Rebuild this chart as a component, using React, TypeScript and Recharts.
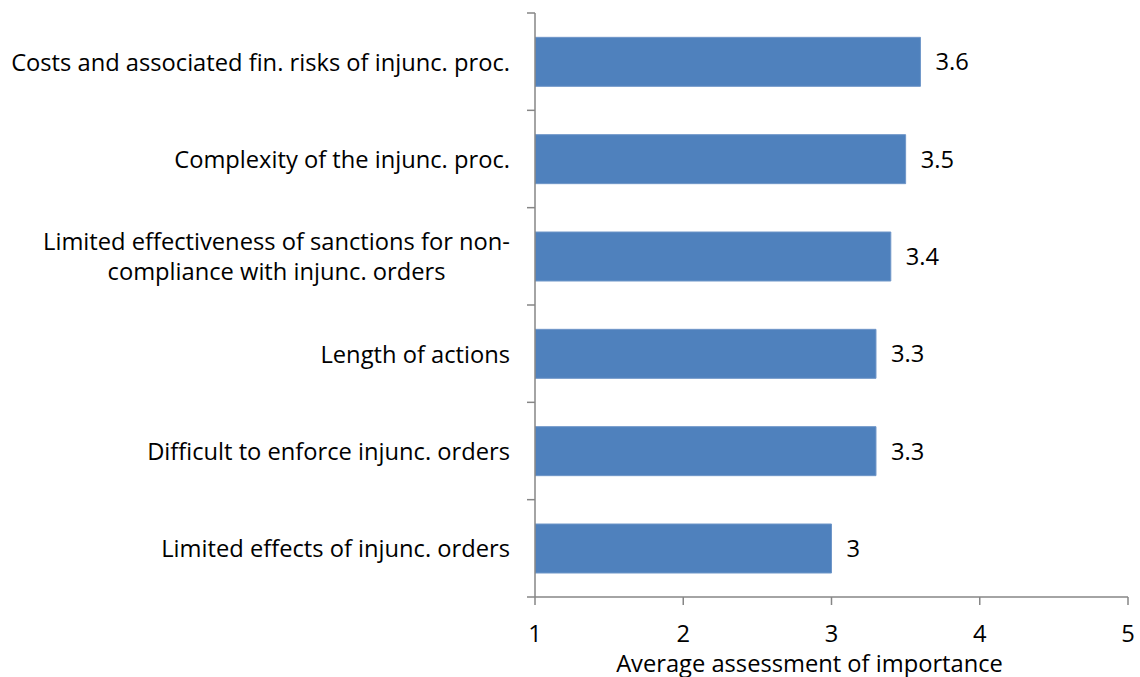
import React from "react";
import { BarChart, Bar, XAxis, YAxis, LabelList } from "recharts";

const categories: string[] = [
  "Costs and associated fin. risks of injunc. proc.",
  "Complexity of the injunc. proc.",
  "Limited effectiveness of sanctions for non-\ncompliance with injunc. orders",
  "Length of actions",
  "Difficult to enforce injunc. orders",
  "Limited effects of injunc. orders",
];
const scores: number[] = [3.6, 3.5, 3.4, 3.3, 3.3, 3];
const xTicks: number[] = [1, 2, 3, 4, 5];

const data = categories.map((name, i) => ({ name, score: scores[i] }));

const FONT = "'Open Sans', sans-serif";
const FS = 23.7;
const AXIS = "#868686";
const TICK_SIZE = 8;
const TICK_MARGIN = 17;

const measure = (s: string): number => {
  const c = document.createElement("canvas").getContext("2d");
  if (!c) return s.length * 11;
  c.font = `${FS}px 'Open Sans'`;
  return c.measureText(s).width;
};

// category label (wrapped lines centred on each other) + tick marks at band edges
const CategoryTick = (props: any) => {
  const { x, y, payload, index, height, visibleTicksCount } = props;
  const lines: string[] = String(payload.value).split("\n");
  const band = height / visibleTicksCount;
  const lx = x + TICK_MARGIN;
  const w = Math.max(...lines.map(measure));
  const cx = lines.length > 1 ? x - w / 2 : x;
  const lh = 30;
  const startY = y - ((lines.length - 1) * lh) / 2;
  return (
    <g>
      <line x1={lx} x2={lx + TICK_SIZE} y1={y - band / 2} y2={y - band / 2} stroke={AXIS} strokeWidth={1.5} />
      {index === visibleTicksCount - 1 && (
        <line x1={lx} x2={lx + TICK_SIZE} y1={y + band / 2} y2={y + band / 2} stroke={AXIS} strokeWidth={1.5} />
      )}
      <text
        x={cx}
        y={startY}
        textAnchor={lines.length > 1 ? "middle" : "end"}
        dominantBaseline="central"
        fontSize={FS}
        fontFamily={FONT}
        fill="#000"
      >
        {lines.map((l, i) => (
          <tspan key={i} x={cx} dy={i === 0 ? 0 : lh}>
            {l}
          </tspan>
        ))}
      </text>
    </g>
  );
};

export default function App() {
  return (
    <div style={{ position: "absolute", left: 0, top: 0, background: "#fff" }}>
      <BarChart
        width={1140}
        height={677}
        data={data}
        layout="vertical"
        margin={{ top: 13, right: 12, bottom: 0, left: 0 }}
        barCategoryGap="25%"
      >
        <XAxis
          type="number"
          domain={[1, 5]}
          ticks={xTicks}
          allowDataOverflow
          stroke={AXIS}
          strokeWidth={1.5}
          tickSize={TICK_SIZE}
          tickMargin={20}
          height={80}
          tick={{ fill: "#000", fontSize: FS, fontFamily: FONT }}
          label={{
            value: "Average assessment of importance",
            position: "insideBottom",
            offset: 5,
            dx: -22,
            fill: "#000",
            fontSize: FS,
            fontFamily: FONT,
          }}
        />
        <YAxis
          type="category"
          dataKey="name"
          width={535}
          stroke={AXIS}
          strokeWidth={1.5}
          tickLine={false}
          tickSize={TICK_SIZE}
          tickMargin={TICK_MARGIN}
          interval={0}
          tick={<CategoryTick />}
        />
        <Bar dataKey="score" fill="#4F81BD" stroke="#6F96C8" strokeWidth={1} isAnimationActive={false}>
          <LabelList
            dataKey="score"
            position="right"
            offset={15}
            fill="#000"
            fontSize={FS}
            fontFamily={FONT}
          />
        </Bar>
      </BarChart>
    </div>
  );
}
